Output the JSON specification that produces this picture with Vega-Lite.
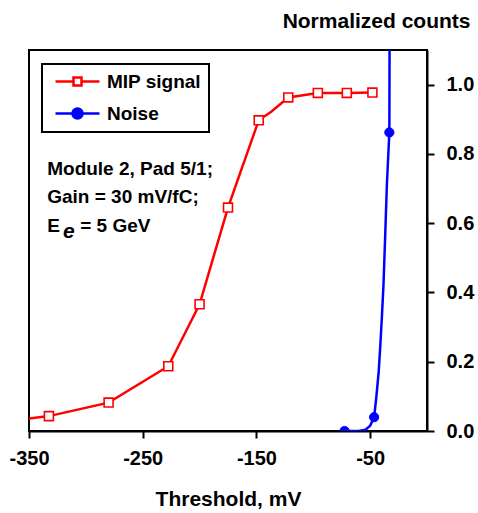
{
  "$schema": "https://vega.github.io/schema/vega-lite/v6.json",
  "width": 398,
  "height": 381,
  "autosize": {"type": "none"},
  "padding": {"left": 29, "top": 50, "right": 51, "bottom": 82},
  "background": "white",
  "config": {
    "font": "Liberation Sans",
    "view": {"stroke": "black", "strokeWidth": 2},
    "legend": {"symbolOpacity": 1}
  },
  "datasets": {
    "curves": [
      {"series": "MIP signal", "threshold": -365, "counts": 0.03},
      {"series": "MIP signal", "threshold": -332.5, "counts": 0.043},
      {"series": "MIP signal", "threshold": -280, "counts": 0.082},
      {"series": "MIP signal", "threshold": -227.5, "counts": 0.187},
      {"series": "MIP signal", "threshold": -200, "counts": 0.366},
      {"series": "MIP signal", "threshold": -175, "counts": 0.645},
      {"series": "MIP signal", "threshold": -148, "counts": 0.897},
      {"series": "MIP signal", "threshold": -137, "counts": 0.922},
      {"series": "MIP signal", "threshold": -122, "counts": 0.963},
      {"series": "MIP signal", "threshold": -96, "counts": 0.976},
      {"series": "MIP signal", "threshold": -70.5, "counts": 0.976},
      {"series": "MIP signal", "threshold": -48, "counts": 0.977},
      {"series": "Noise", "threshold": -72.5, "counts": 0.0},
      {"series": "Noise", "threshold": -60, "counts": 0.0},
      {"series": "Noise", "threshold": -54, "counts": 0.004},
      {"series": "Noise", "threshold": -50, "counts": 0.015},
      {"series": "Noise", "threshold": -46.5, "counts": 0.04},
      {"series": "Noise", "threshold": -44.5, "counts": 0.1},
      {"series": "Noise", "threshold": -42.5, "counts": 0.17},
      {"series": "Noise", "threshold": -41, "counts": 0.25},
      {"series": "Noise", "threshold": -39.5, "counts": 0.34},
      {"series": "Noise", "threshold": -38.3, "counts": 0.42},
      {"series": "Noise", "threshold": -36.8, "counts": 0.56},
      {"series": "Noise", "threshold": -35.3, "counts": 0.71},
      {"series": "Noise", "threshold": -33.1, "counts": 0.862},
      {"series": "Noise", "threshold": -32.8, "counts": 1.3}
    ],
    "markers": [
      {"series": "MIP signal", "threshold": -332.5, "counts": 0.043},
      {"series": "MIP signal", "threshold": -280, "counts": 0.082},
      {"series": "MIP signal", "threshold": -227.5, "counts": 0.187},
      {"series": "MIP signal", "threshold": -200, "counts": 0.366},
      {"series": "MIP signal", "threshold": -175, "counts": 0.645},
      {"series": "MIP signal", "threshold": -148, "counts": 0.897},
      {"series": "MIP signal", "threshold": -122, "counts": 0.963},
      {"series": "MIP signal", "threshold": -96, "counts": 0.976},
      {"series": "MIP signal", "threshold": -70.5, "counts": 0.976},
      {"series": "MIP signal", "threshold": -48, "counts": 0.977},
      {"series": "Noise", "threshold": -72.5, "counts": 0.0},
      {"series": "Noise", "threshold": -46.5, "counts": 0.04},
      {"series": "Noise", "threshold": -33.1, "counts": 0.862}
    ],
    "notes": [
      {"threshold": -334, "counts": 0.74, "label": "Module 2, Pad 5/1;"},
      {"threshold": -334, "counts": 0.659, "label": "Gain = 30 mV/fC;"},
      {"threshold": -334, "counts": 0.575, "label": "E"},
      {"threshold": -305, "counts": 0.575, "label": "= 5 GeV"}
    ],
    "subscripts": [
      {"threshold": -320, "counts": 0.557, "label": "e"}
    ]
  },
  "layer": [
    {
      "data": {"name": "curves"},
      "mark": {"type": "line", "strokeWidth": 2.5, "clip": true},
      "encoding": {
        "x": {
          "field": "threshold", "type": "quantitative",
          "scale": {"domain": [-350, 0], "nice": false, "zero": false},
          "axis": {
            "orient": "bottom", "values": [-350, -250, -150, -50], "grid": false,
            "labelExpr": "'' + datum.value",
            "title": "Threshold, mV", "titleFontSize": 21, "titleFontWeight": "bold",
            "titleColor": "black", "titleY": 74, "titleBaseline": "alphabetic",
            "labelFontSize": 20, "labelFontWeight": "bold", "labelColor": "black",
            "labelPadding": 10, "tickSize": 7, "tickWidth": 2, "tickColor": "black",
            "domainColor": "black", "domainWidth": 2, "labelFlush": false
          }
        },
        "y": {
          "field": "counts", "type": "quantitative",
          "scale": {"domain": [0, 1.1], "nice": false},
          "axis": {
            "orient": "right", "values": [0, 0.2, 0.4, 0.6, 0.8, 1.0], "format": ".1f",
            "grid": false, "title": "Normalized counts", "titleAngle": 0,
            "titleAlign": "right", "titleX": 43, "titleY": -23, "titleBaseline": "alphabetic",
            "titleFontSize": 21, "titleFontWeight": "bold", "titleColor": "black",
            "labelFontSize": 20, "labelFontWeight": "bold", "labelColor": "black",
            "labelPadding": 12, "tickSize": 7, "tickWidth": 2, "tickColor": "black",
            "domainColor": "black", "domainWidth": 2, "labelFlush": false
          }
        },
        "color": {
          "field": "series", "type": "nominal",
          "scale": {"domain": ["MIP signal", "Noise"], "range": ["#ff0000", "#0000ff"]},
          "legend": {
            "orient": "none", "legendX": 13, "legendY": 14, "title": null,
            "strokeColor": "black", "fillColor": "white",
            "padding": 8, "rowPadding": 11, "symbolSize": 100, "symbolStrokeWidth": 2.5,
            "symbolOpacity": 1, "symbolOffset": 18, "labelOffset": 20,
            "labelFontSize": 19, "labelFontWeight": "bold", "labelColor": "black",
            "encode": {"legend": {"update": {"strokeWidth": {"value": 2}}}}
          }
        }
      }
    },
    {
      "data": {"name": "markers"},
      "transform": [{"filter": "datum.series === 'MIP signal'"}],
      "mark": {"type": "point", "shape": "square", "filled": true, "fill": "white", "stroke": "#ff0000", "strokeWidth": 1.6, "size": 80, "opacity": 1, "clip": true},
      "encoding": {
        "x": {"field": "threshold", "type": "quantitative"},
        "y": {"field": "counts", "type": "quantitative"}
      }
    },
    {
      "data": {"name": "markers"},
      "transform": [{"filter": "datum.series === 'Noise'"}],
      "mark": {"type": "point", "shape": "circle", "filled": true, "fill": "#0000ff", "stroke": "#0000ff", "strokeWidth": 1, "size": 85, "opacity": 1, "clip": true},
      "encoding": {
        "x": {"field": "threshold", "type": "quantitative"},
        "y": {"field": "counts", "type": "quantitative"}
      }
    },
    {
      "data": {"name": "markers"},
      "mark": {"type": "point", "opacity": 0, "clip": true},
      "encoding": {
        "x": {"field": "threshold", "type": "quantitative"},
        "y": {"field": "counts", "type": "quantitative"},
        "color": {"field": "series", "type": "nominal"},
        "fill": {
          "field": "series", "type": "nominal",
          "scale": {"domain": ["MIP signal", "Noise"], "range": ["white", "#0000ff"]}
        },
        "shape": {
          "field": "series", "type": "nominal",
          "scale": {"domain": ["MIP signal", "Noise"], "range": ["M-4.4,0H-0.8M0.8,0H4.4M-0.8,-0.8H0.8V0.8H-0.8Z", "M-4.4,0H4.4M-1,0A1,1 0 1,0 1,0A1,1 0 1,0 -1,0Z"]}
        }
      }
    },
    {
      "data": {"name": "notes"},
      "mark": {"type": "text", "align": "left", "baseline": "alphabetic", "fontSize": 19, "fontWeight": "bold", "color": "black"},
      "encoding": {
        "x": {"field": "threshold", "type": "quantitative"},
        "y": {"field": "counts", "type": "quantitative"},
        "text": {"field": "label"}
      }
    },
    {
      "data": {"name": "subscripts"},
      "mark": {"type": "text", "align": "left", "baseline": "alphabetic", "fontSize": 21, "fontWeight": "bold", "fontStyle": "italic", "color": "black"},
      "encoding": {
        "x": {"field": "threshold", "type": "quantitative"},
        "y": {"field": "counts", "type": "quantitative"},
        "text": {"field": "label"}
      }
    }
  ]
}
